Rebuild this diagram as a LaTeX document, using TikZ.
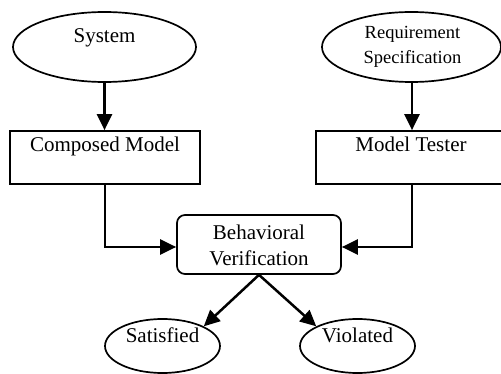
\documentclass[tikz,border=0pt]{standalone}
\usepackage{fontspec}
\setmainfont{Liberation Serif}
\usetikzlibrary{shapes.geometric,arrows.meta}

\tikzset{
  frame/.style={draw=black, line width=1.7pt, inner sep=0pt},
  oval/.style={frame, ellipse},
  block/.style={frame, rectangle},
  roundblock/.style={frame, rectangle, rounded corners=8pt},
  lbl/.style={anchor=base, inner sep=0pt, font=\fontsize{21}{25}\selectfont},
  smalllbl/.style={anchor=base, inner sep=0pt, font=\fontsize{18.5}{25}\selectfont},
  flow/.style={draw=black, line width=2.5pt,
    -{Triangle[length=16pt,width=15pt]}},
}

\begin{document}
\begin{tikzpicture}[x=1pt, y=-1pt]
  \clip (0,0) rectangle (501,374);

  % shapes
  \node[oval, minimum width=183pt, minimum height=70pt] (sys) at (104.5,47) {};
  \node[oval, minimum width=179pt, minimum height=70pt] (req) at (411.5,47) {};
  \node[block, minimum width=190pt, minimum height=53pt] (comp) at (105,157.5) {};
  \node[block, minimum width=192pt, minimum height=53pt] (tester) at (412,157.5) {};
  \node[roundblock, minimum width=164pt, minimum height=59pt] (bv) at (259,244.5) {};
  \node[oval, minimum width=115pt, minimum height=54pt] (sat) at (162.5,346) {};
  \node[oval, minimum width=115pt, minimum height=54pt] (vio) at (357.5,346) {};

  % labels
  \node[lbl] (sysT) at (104.5,43) {System};
  \node[smalllbl] (reqT1) at (412.5,38.5) {Requirement};
  \node[smalllbl] (reqT2) at (412.5,63.5) {Specification};
  \node[lbl] (compT) at (105,152) {Composed Model};
  \node[lbl] (testT) at (411,152) {Model Tester};
  \node[lbl] (bvT1) at (259,239.3) {Behavioral};
  \node[lbl] (bvT2) at (259,265.7) {Verification};
  \node[lbl] (satT) at (162.5,342.7) {Satisfied};
  \node[lbl] (vioT) at (357.5,342.7) {Violated};

  % connectors
  \draw[flow] (sys.south) -- (sys.south |- comp.north);
  \draw[flow] (req.south -| tester.north) -- (tester.north);
  \draw[flow] (comp.south) |- ([yshift=-2.5pt]bv.west);
  \draw[flow] (tester.south) |- ([yshift=-2.5pt]bv.east);
  \draw[flow] (bv.south) -- (sat.north east);
  \draw[flow] (bv.south) -- (vio.north west);
\end{tikzpicture}
\end{document}
